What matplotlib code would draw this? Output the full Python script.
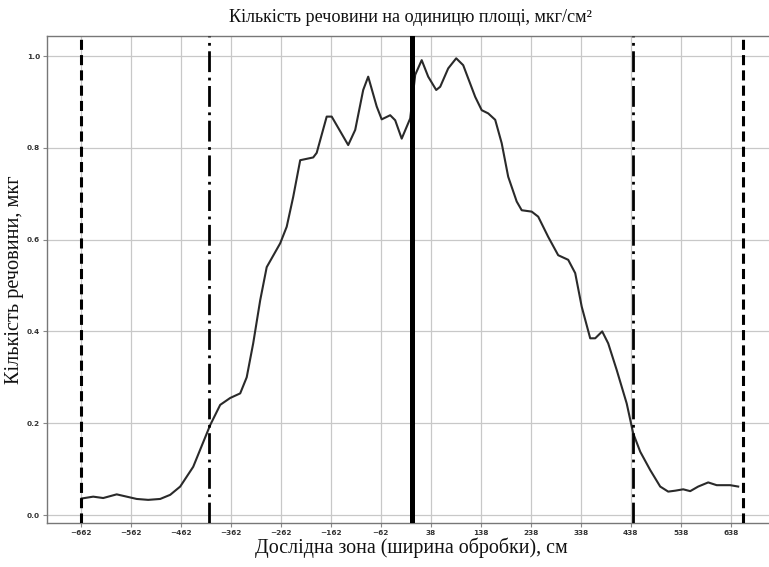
import matplotlib
matplotlib.use("Agg")
import matplotlib.pyplot as plt

# ---- data ----
x_cm = [-660, -637, -617, -590, -570, -550, -527, -503, -483, -463, -437, -403,
        -383, -363, -343, -330, -317, -303, -290, -263, -250, -237, -223, -197,
        -190, -170, -160, -127, -113, -97, -87, -70, -60, -43, -33, -20, -3,
        7, 20, 33, 49, 57, 73, 89, 103, 127, 140, 153, 167, 180, 193, 210,
        220, 240, 253, 273, 293, 313, 327, 340, 357, 367, 381, 393, 410, 430,
        443, 457, 477, 497, 513, 527, 543, 557, 573, 593, 610, 637, 653]
amount = [0.036, 0.040, 0.037, 0.045, 0.040, 0.035, 0.033, 0.035, 0.044, 0.062,
          0.105, 0.196, 0.240, 0.255, 0.265, 0.300, 0.374, 0.468, 0.540, 0.592,
          0.628, 0.693, 0.773, 0.779, 0.789, 0.868, 0.868, 0.806, 0.839, 0.926,
          0.955, 0.890, 0.862, 0.871, 0.860, 0.820, 0.864, 0.959, 0.991, 0.955,
          0.926, 0.933, 0.973, 0.995, 0.980, 0.911, 0.882, 0.875, 0.861, 0.810,
          0.737, 0.683, 0.664, 0.661, 0.650, 0.606, 0.566, 0.556, 0.527, 0.454,
          0.385, 0.385, 0.400, 0.374, 0.316, 0.243, 0.178, 0.138, 0.098, 0.062,
          0.051, 0.053, 0.056, 0.052, 0.062, 0.071, 0.065, 0.065, 0.062]

xticks = [-662, -562, -462, -362, -262, -162, -62, 38, 138, 238, 338, 438, 538, 638]
yticks = [0.0, 0.2, 0.4, 0.6, 0.8, 1.0]
outer_bounds = [-662, 662]     # dashed lines
inner_bounds = [-405, 443]     # dash-dot lines
centre = 0                     # solid line

title = "Кількість речовини на одиницю площі, мкг/см²"
xlabel = "Дослідна зона (ширина обробки), см"
ylabel = "Кількість речовини, мкг"

# ---- figure ----
W, H = 769, 567
fig = plt.figure(figsize=(W / 100, H / 100), dpi=100)
ax = fig.add_axes([47 / W, (H - 523) / H, (776.4 - 47) / W, (523 - 36) / H])

ax.set_xlim(-729.4, 729.4)
ax.set_ylim(-0.0174, 1.0436)

ax.set_xticks(xticks)
ax.set_yticks(yticks)
ax.set_xticklabels([str(v).replace("-", "\u2212") for v in xticks])
ax.set_yticklabels([f"{v:.1f}" for v in yticks])
for lab in ax.get_xticklabels() + ax.get_yticklabels():
    lab.set_fontsize(5.3)
    lab.set_fontweight("bold")
    lab.set_color("#333333")
ax.tick_params(axis="both", length=3, width=0.8, color="#888888", pad=2)

ax.grid(True, color="#c8c8c8", linewidth=0.9)
ax.set_axisbelow(True)
for s in ax.spines.values():
    s.set_color("#777777")
    s.set_linewidth(1.0)

ax.plot(x_cm, amount, color="#2a2a2a", linewidth=1.5, zorder=3)

lw_d = 2.2
for xv in outer_bounds:
    l, = ax.plot([xv, xv], [0, 1], transform=ax.get_xaxis_transform(),
                 color="black", linewidth=lw_d, zorder=4)
    l.set_dashes([3.3, 1.7])
lw_dd = 2.0
for xv in inner_bounds:
    l, = ax.plot([xv, xv], [0, 1], transform=ax.get_xaxis_transform(),
                 color="black", linewidth=lw_dd, zorder=4)
    l.set_dashes([7.5, 2.0, 1.0, 2.0])
ax.axvline(centre, color="black", linewidth=3.6, zorder=5)

serif = ["Liberation Serif", "DejaVu Serif"]
fig.text(410 / W, 1 - 18 / H, title, ha="center", va="center",
         fontsize=13.1, family=serif, color="#111111")
fig.text(411 / W, 1 - 548 / H, xlabel, ha="center", va="center",
         fontsize=14.4, family=serif, color="#111111")
fig.text(15 / W, 1 - 280 / H, ylabel, ha="center", va="center",
         rotation=90, fontsize=14.6, family=serif, color="#111111")

fig.savefig("out.png", dpi=100)
